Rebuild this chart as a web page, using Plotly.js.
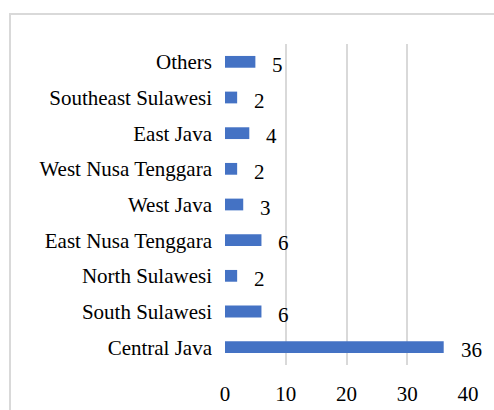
<!DOCTYPE html>
<html>
<head>
<meta charset="utf-8">
<script src="https://cdn.plot.ly/plotly-3.0.1.min.js"></script>
<style>
  html, body { margin: 0; padding: 0; background: #fff; }
</style>
</head>
<body>
<div id="chart" style="width:494px;height:410px"></div>
<script>
const categories = ["Central Java", "South Sulawesi", "North Sulawesi", "East Nusa Tenggara",
                    "West Java", "West Nusa Tenggara", "East Java", "Southeast Sulawesi", "Others"];
const values = [36, 6, 2, 6, 3, 2, 4, 2, 5];
const xTicks = [0, 10, 20, 30, 40];

const trace = {
  type: "bar",
  orientation: "h",
  x: values,
  y: categories,
  marker: { color: "#4472C4" },
  hoverinfo: "none"
};

const annotations = categories.map((c, i) => ({
  x: values[i], y: c, xref: "x", yref: "y",
  text: String(values[i]),
  showarrow: false, xanchor: "left", yanchor: "middle",
  xshift: 15, yshift: -3
}));

const layout = {
  width: 494, height: 410,
  margin: { l: 225, r: 26, t: 44, b: 45 },
  bargap: 0.67,
  showlegend: false,
  font: { family: "Liberation Serif", size: 21, color: "#000" },
  xaxis: {
    range: [0, 40],
    tickvals: xTicks,
    ticktext: xTicks.map(String),
    showgrid: true, gridcolor: "#d9d9d9", gridwidth: 2,
    zeroline: false, showline: false,
    ticks: "", ticklabelstandoff: 14,
    fixedrange: true
  },
  yaxis: {
    type: "category",
    categoryorder: "array", categoryarray: categories,
    showgrid: false, zeroline: false, showline: false,
    ticks: "", ticklabelstandoff: 12,
    fixedrange: true
  },
  shapes: [{
    type: "rect", xref: "paper", yref: "paper",
    x0: -0.8848, x1: 1.14, y0: -0.2, y1: 1.0935,
    line: { color: "#d9d9d9", width: 2 }, fillcolor: "rgba(0,0,0,0)", layer: "below"
  }],
  annotations: annotations
};

Plotly.newPlot("chart", [trace], layout, { staticPlot: true }).then(() => {
  document.querySelectorAll("#chart svg text").forEach(t => {
    t.style.fontFamily = "Liberation Serif";
  });
});
</script>
</body>
</html>
